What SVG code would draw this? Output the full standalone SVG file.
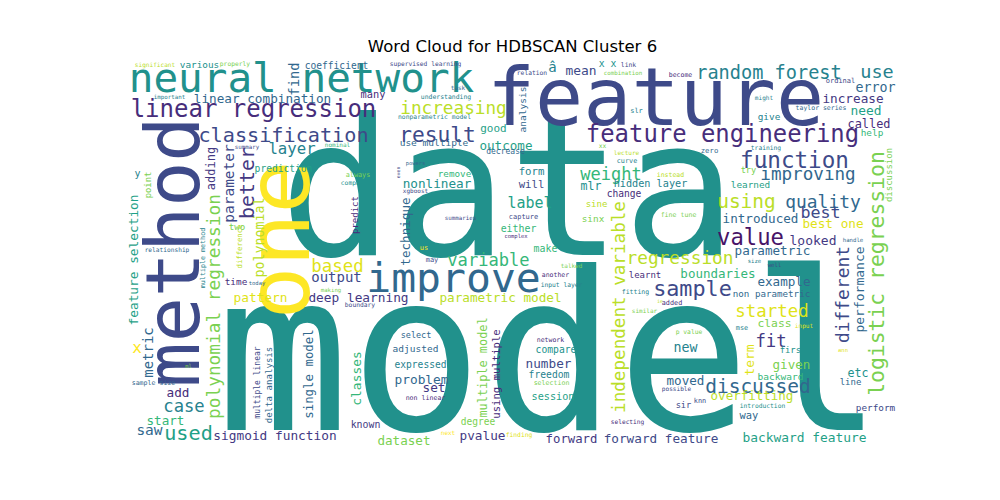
<svg xmlns="http://www.w3.org/2000/svg" width="1000" height="500" viewBox="0 0 1000 500">
<style>
.t{font-family:"DejaVu Sans",sans-serif;font-size:16.5px;fill:#000;text-anchor:middle}
.w text{font-family:"DejaVu Sans Mono","Liberation Mono",monospace;text-anchor:middle}
.c0{fill:#481467}.c1{fill:#472d7b}.c2{fill:#443983}.c3{fill:#3e4a89}.c4{fill:#31688e}.c5{fill:#26828e}.c6{fill:#21918c}.c7{fill:#1fa187}.c8{fill:#35b779}.c9{fill:#7ad151}.c10{fill:#bade28}.c11{fill:#dfe318}.c12{fill:#fde725}
</style>
<rect width="1000" height="500" fill="#fff"/>
<text class="t" x="512.5" y="52">Word Cloud for HDBSCAN Cluster 6</text>
<g id="cloud" class="w">
<text class="c6" x="508" y="255" font-size="190">data</text>
<text class="c6" x="550" y="430" font-size="222">model</text>
<text class="c3" x="655.5" y="125" font-size="80">feature</text>
<text class="c3" font-size="75" transform="translate(199,252) rotate(-90)">method</text>
<text class="c12" font-size="88" transform="translate(309,240) rotate(-90)">one</text>
<text class="c6" x="301.5" y="92" font-size="41">neural network</text>
<text class="c1" x="253.5" y="117" font-size="24">linear regression</text>
<text class="c4" x="262.5" y="103" font-size="12.7">linear combination</text>
<text class="c3" x="283.5" y="142" font-size="20.2">classification</text>
<text class="c5" x="292" y="154" font-size="15.7">layer</text>
<text class="c10" x="155" y="67" font-size="6.1">significant</text>
<text class="c6" x="199.5" y="68" font-size="9.4">various</text>
<text class="c9" x="235" y="66" font-size="6.3">properly</text>
<text class="c5" x="169.5" y="99" font-size="5.8">important</text>
<text class="c3" x="247" y="149" font-size="5.8">summary</text>
<text class="c7" x="283.5" y="172" font-size="9.6">prediction</text>
<text class="c5" x="137.5" y="177" font-size="10">y</text>
<text class="c4" x="336.5" y="69" font-size="9.6">coefficient</text>
<text class="c3" x="425.5" y="66" font-size="6.25">supervised learning</text>
<text class="c4" x="458" y="90" font-size="6">task</text>
<text class="c1" x="373" y="98" font-size="10.3">many</text>
<text class="c5" x="446" y="99" font-size="6.45">understanding</text>
<text class="c10" x="453.5" y="114" font-size="17.7">increasing</text>
<text class="c5" x="434.5" y="119" font-size="6.4">nonparametric model</text>
<text class="c3" x="437.5" y="142" font-size="21.2">result</text>
<text class="c7" x="493.5" y="132" font-size="11">good</text>
<text class="c8" x="337.5" y="147" font-size="6">nominal</text>
<text class="c4" x="434" y="146" font-size="9.5">use multiple</text>
<text class="c7" x="506" y="150" font-size="12.6">outcome</text>
<text class="c4" x="505.5" y="154" font-size="8">decrease</text>
<text class="c4" x="415.5" y="165" font-size="5.4">powers</text>
<text class="c8" x="454.5" y="177" font-size="9.3">remove</text>
<text class="c9" x="358" y="177" font-size="6.8">always</text>
<text class="c6" x="356" y="185" font-size="6.3">compared</text>
<text class="c6" x="437" y="188" font-size="12.7">nonlinear</text>
<text class="c3" x="415.5" y="193" font-size="6">xgboost</text>
<text class="c5" x="552.5" y="72" font-size="14">â</text>
<text class="c6" x="607.5" y="67" font-size="9.8">x x</text>
<text class="c3" x="628.5" y="67" font-size="6.4">link</text>
<text class="c3" x="532" y="75" font-size="6.3">relation</text>
<text class="c3" x="581" y="75" font-size="12.9">mean</text>
<text class="c9" x="623" y="75" font-size="5.8">combination</text>
<text class="c1" x="680.5" y="77" font-size="6.5">become</text>
<text class="c5" x="769" y="79" font-size="18.6">random forest</text>
<text class="c5" x="877" y="78" font-size="18.5">use</text>
<text class="c5" x="636.5" y="113" font-size="7">slr</text>
<text class="c1" x="722.5" y="142" font-size="23.9">feature engineering</text>
<text class="c9" x="602.5" y="148" font-size="6.3">xx</text>
<text class="c10" x="626.5" y="155" font-size="6">lecture</text>
<text class="c4" x="709.5" y="153" font-size="7.3">zero</text>
<text class="c5" x="531.5" y="175" font-size="10.7">form</text>
<text class="c5" x="627" y="163" font-size="6.8">curve</text>
<text class="c8" x="611" y="180" font-size="17">weight</text>
<text class="c10" x="670.5" y="177" font-size="6.5">instead</text>
<text class="c3" x="531.5" y="188" font-size="10.7">will</text>
<text class="c6" x="591" y="190" font-size="11.6">mlr</text>
<text class="c5" x="650.5" y="187" font-size="10.2">hidden layer</text>
<text class="c4" x="875.5" y="92" font-size="13.3">error</text>
<text class="c3" x="840.5" y="83" font-size="7">ordinal</text>
<text class="c2" x="853" y="103" font-size="12.7">increase</text>
<text class="c5" x="764" y="100" font-size="6.1">might</text>
<text class="c4" x="821" y="110" font-size="6.5">taylor series</text>
<text class="c7" x="866" y="115" font-size="12.9">need</text>
<text class="c5" x="769" y="120" font-size="9.4">give</text>
<text class="c1" x="869" y="128" font-size="11.9">called</text>
<text class="c8" x="872" y="136" font-size="9.4">help</text>
<text class="c5" x="766" y="150" font-size="6.3">training</text>
<text class="c3" x="794.5" y="168" font-size="22.6">function</text>
<text class="c9" x="748.5" y="173" font-size="8.7">try</text>
<text class="c4" x="808" y="180" font-size="17.6">improving</text>
<text class="c7" x="750.5" y="188" font-size="9.4">learned</text>
<text class="c9" x="237" y="230" font-size="9.2">two</text>
<text class="c4" x="167" y="252" font-size="6.2">relationship</text>
<text class="c1" x="236" y="285" font-size="9.4">time</text>
<text class="c4" x="257" y="285" font-size="5.5">today</text>
<text class="c11" x="260.5" y="302" font-size="12.8">pattern</text>
<text class="c3" x="460.5" y="220" font-size="5.8">summaries</text>
<text class="c12" x="424" y="250" font-size="7">us</text>
<text class="c3" x="432" y="262" font-size="7">may</text>
<text class="c11" x="337.5" y="272" font-size="17.4">based</text>
<text class="c8" x="488.5" y="266" font-size="17.1">variable</text>
<text class="c3" x="336.5" y="282" font-size="14">output</text>
<text class="c4" x="453.5" y="292" font-size="41.4">improve</text>
<text class="c9" x="331" y="292" font-size="5.7">making</text>
<text class="c2" x="358.5" y="302" font-size="12.8">deep learning</text>
<text class="c10" x="500.5" y="302" font-size="12.7">parametric model</text>
<text class="c3" x="360" y="307" font-size="6.3">boundary</text>
<text class="c7" x="530" y="208" font-size="15">label</text>
<text class="c1" x="624" y="197" font-size="9.6">change</text>
<text class="c10" x="596.5" y="207" font-size="9">sine</text>
<text class="c9" x="678.5" y="217" font-size="6.6">fine tune</text>
<text class="c3" x="523.5" y="219" font-size="7">capture</text>
<text class="c9" x="593" y="222" font-size="9.4">sinx</text>
<text class="c8" x="518.5" y="232" font-size="9.9">either</text>
<text class="c1" x="516" y="238" font-size="5.5">complex</text>
<text class="c8" x="545.5" y="252" font-size="9.9">make</text>
<text class="c10" x="680" y="264" font-size="17.8">regression</text>
<text class="c8" x="718" y="278" font-size="12.5">boundaries</text>
<text class="c9" x="571.5" y="268" font-size="6">talked</text>
<text class="c1" x="555.5" y="277" font-size="6.5">another</text>
<text class="c1" x="645" y="278" font-size="9">learnt</text>
<text class="c5" x="561.5" y="287" font-size="6.3">input layer</text>
<text class="c5" x="635.5" y="294" font-size="6.5">fitting</text>
<text class="c3" x="692.5" y="296" font-size="21.8">sample</text>
<text class="c10" x="660" y="303" font-size="5">ie</text>
<text class="c1" x="672" y="305" font-size="6.8">added</text>
<text class="c9" x="644.5" y="313" font-size="6">similar</text>
<text class="c10" x="746.5" y="208" font-size="19.5">using</text>
<text class="c4" x="823" y="208" font-size="17.9">quality</text>
<text class="c3" x="820.5" y="218" font-size="16.7">best</text>
<text class="c4" x="760.5" y="223" font-size="12.6">introduced</text>
<text class="c11" x="833" y="228" font-size="12.7">best one</text>
<text class="c0" x="750.5" y="245" font-size="22.2">value</text>
<text class="c2" x="813" y="245" font-size="13">looked</text>
<text class="c4" x="853" y="242" font-size="5.7">handle</text>
<text class="c4" x="772.5" y="255" font-size="12.6">parametric</text>
<text class="c5" x="754.5" y="263" font-size="5.6">size</text>
<text class="c3" x="774.5" y="267" font-size="5.6">well</text>
<text class="c4" x="784" y="286" font-size="12.6">example</text>
<text class="c4" x="771.5" y="297" font-size="9.2">non parametric</text>
<text class="c11" x="772" y="317" font-size="17.4">started</text>
<text class="c12" x="137" y="353" font-size="16">x</text>
<text class="c9" x="188.5" y="368" font-size="5.5">ml</text>
<text class="c4" x="153.5" y="385" font-size="6.6">sample size</text>
<text class="c1" x="178" y="397" font-size="12.7">add</text>
<text class="c5" x="184" y="412" font-size="17.2">case</text>
<text class="c8" x="165.5" y="425" font-size="12.6">start</text>
<text class="c4" x="149.5" y="435" font-size="14.5">saw</text>
<text class="c7" x="188.5" y="440" font-size="20.2">used</text>
<text class="c2" x="275" y="440" font-size="12.8">sigmoid function</text>
<text class="c4" x="416" y="338" font-size="8.5">select</text>
<text class="c4" x="415.5" y="352" font-size="9.5">adjusted</text>
<text class="c5" x="420.5" y="368" font-size="9.6">expressed</text>
<text class="c4" x="421.5" y="384" font-size="12.8">problem</text>
<text class="c2" x="434" y="392" font-size="12.7">set</text>
<text class="c1" x="425.5" y="400" font-size="6.6">non linear</text>
<text class="c2" x="365.5" y="428" font-size="9.9">known</text>
<text class="c9" x="478" y="425" font-size="9.6">degree</text>
<text class="c9" x="404" y="445" font-size="12.6">dataset</text>
<text class="c12" x="448" y="435" font-size="6">next</text>
<text class="c2" x="482.5" y="440" font-size="12.7">pvalue</text>
<text class="c11" x="519" y="437" font-size="6.3">finding</text>
<text class="c1" x="550.5" y="342" font-size="6.5">network</text>
<text class="c6" x="556" y="353" font-size="9.7">compare</text>
<text class="c3" x="548.5" y="368" font-size="12.7">number</text>
<text class="c5" x="549" y="378" font-size="9.7">freedom</text>
<text class="c9" x="551.5" y="385" font-size="6.6">selection</text>
<text class="c7" x="553" y="400" font-size="10.2">session</text>
<text class="c9" x="689" y="334" font-size="6.3">p value</text>
<text class="c5" x="685.5" y="352" font-size="13.3">new</text>
<text class="c4" x="685.5" y="385" font-size="12.6">moved</text>
<text class="c3" x="676.5" y="391" font-size="6.1">possible</text>
<text class="c3" x="683.5" y="408" font-size="8.7">sir</text>
<text class="c3" x="700" y="403" font-size="6.9">knn</text>
<text class="c1" x="627.5" y="424" font-size="6.2">selecting</text>
<text class="c2" x="571.5" y="443" font-size="12.3">forward</text>
<text class="c3" x="661" y="443" font-size="12.7">forward feature</text>
<text class="c5" x="742" y="330" font-size="6.9">mse</text>
<text class="c9" x="774.5" y="327" font-size="11.3">class</text>
<text class="c11" x="804" y="328" font-size="6.1">input</text>
<text class="c2" x="771" y="347" font-size="17.3">fit</text>
<text class="c6" x="793" y="353" font-size="8.9">first</text>
<text class="c9" x="791.5" y="369" font-size="12.6">given</text>
<text class="c11" x="843" y="352" font-size="5.5">ann</text>
<text class="c6" x="858" y="377" font-size="11.6">etc</text>
<text class="c8" x="780.5" y="380" font-size="9.5">backward</text>
<text class="c4" x="850.5" y="385" font-size="9">line</text>
<text class="c4" x="758" y="393" font-size="19.5">discussed</text>
<text class="c10" x="752" y="400" font-size="12.5">overfitting</text>
<text class="c6" x="762.5" y="408" font-size="6.3">introduction</text>
<text class="c3" x="875.5" y="411" font-size="9.4">perform</text>
<text class="c4" x="749" y="419" font-size="10.4">way</text>
<text class="c7" x="804.5" y="442" font-size="12.9">backward feature</text>
<text class="c4" font-size="13.9" transform="translate(299,79) rotate(-90)">find</text>
<text class="c2" font-size="12" transform="translate(214.6,168.5) rotate(-90)">adding</text>
<text class="c3" font-size="14.5" transform="translate(233.8,183.5) rotate(-90)">parameter</text>
<text class="c2" font-size="19.9" transform="translate(254,183) rotate(-90)">better</text>
<text class="c9" font-size="8.9" transform="translate(151,185) rotate(-90)">point</text>
<text class="c3" font-size="4.8" transform="translate(400,172.5) rotate(-90)">even</text>
<text class="c4" font-size="9.5" transform="translate(526,109.5) rotate(-90)">analysis</text>
<text class="c7" font-size="12.8" transform="translate(138.3,260) rotate(-90)">feature selection</text>
<text class="c9" font-size="17.8" transform="translate(219.8,306.5) rotate(-90)">polynomial regression</text>
<text class="c5" font-size="6.7" transform="translate(204.5,258) rotate(-90)">multiple method</text>
<text class="c10" font-size="13.3" transform="translate(263.5,237.5) rotate(-90)">polynomial</text>
<text class="c10" font-size="7.3" transform="translate(241.7,246.5) rotate(-90)">difference</text>
<text class="c1" font-size="9" transform="translate(358,215) rotate(-90)">predict</text>
<text class="c4" font-size="12.6" transform="translate(410,231.5) rotate(-90)">technique</text>
<text class="c10" font-size="17.6" transform="translate(625,307) rotate(-90)">independent variable</text>
<text class="c9" font-size="21.4" transform="translate(884.4,273.5) rotate(-90)">logistic regression</text>
<text class="c9" font-size="9" transform="translate(891.5,175) rotate(-90)">discussion</text>
<text class="c3" font-size="17.9" transform="translate(849,294.5) rotate(-90)">different</text>
<text class="c4" font-size="13" transform="translate(864,289.5) rotate(-90)">performance</text>
<text class="c4" font-size="14" transform="translate(153,352.5) rotate(-90)">metric</text>
<text class="c3" font-size="8" transform="translate(260.4,382.5) rotate(-90)">multiple linear</text>
<text class="c4" font-size="9.1" transform="translate(272,385) rotate(-90)">delta analysis</text>
<text class="c4" font-size="12.4" transform="translate(312.7,374) rotate(-90)">single model</text>
<text class="c8" font-size="12.9" transform="translate(361,378.5) rotate(-90)">classes</text>
<text class="c9" font-size="11.9" transform="translate(486.6,367.5) rotate(-90)">multiple model</text>
<text class="c1" font-size="10.6" transform="translate(499.7,374) rotate(-90)">using multiple</text>
<text class="c11" font-size="13" transform="translate(754.4,360) rotate(-90)">term</text>
</g>
</svg>
